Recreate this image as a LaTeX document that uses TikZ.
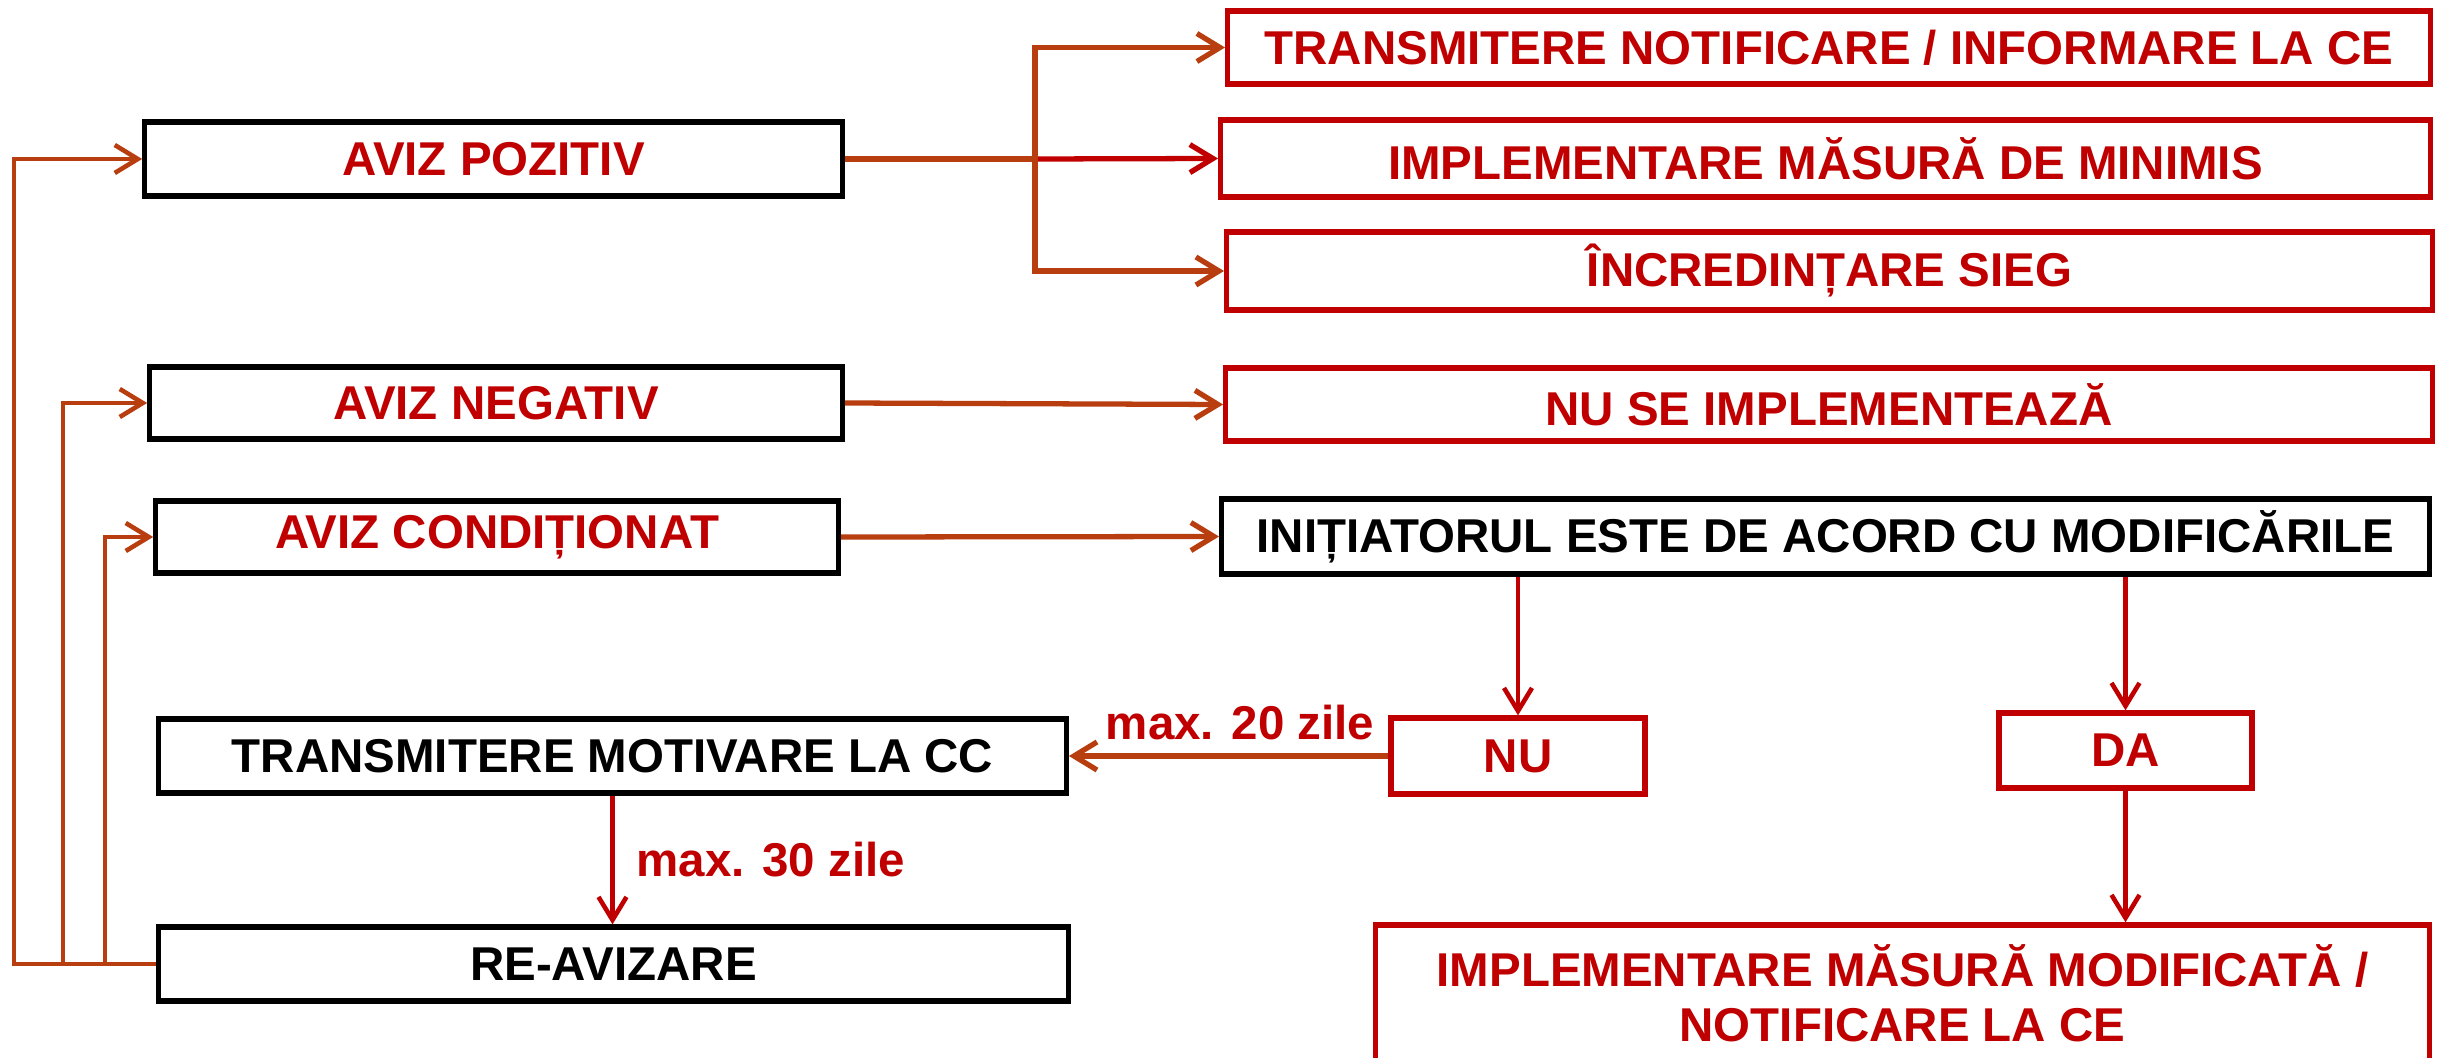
\documentclass[tikz,border=0pt]{standalone}
\usepackage{fontspec}
\setmainfont{Liberation Sans}
\usetikzlibrary{arrows.meta,calc}
\definecolor{rc}{RGB}{192,0,0}
\definecolor{brn}{RGB}{184,62,16}
\newcommand{\fsz}{\fontsize{13.5}{15.6}\selectfont\bfseries}
\tikzset{
  box/.style={draw, line width=1.5pt, inner sep=0pt, align=center, font=\fsz},
  bk/.style={box, draw=black},
  rd/.style={box, draw=rc, text=rc},
  conn/.style={line width=1.5pt, draw=brn, line join=miter},
  rconn/.style={line width=1.3pt, draw=rc},
  arr/.style={-{Straight Barb[length=0.23cm,width=0.28cm]}},
  lbl/.style={inner sep=0pt, font=\fsz, text=rc}
}
\begin{document}
\begin{tikzpicture}[x=0.01cm,y=-0.01cm]
\clip (0,0) rectangle (2445,1058);
\fill[white] (0,0) rectangle (2445,1058);
% left boxes
\node[bk, text=rc, minimum width=6.97cm, minimum height=0.74cm] (AP) at (493.5,159) {AVIZ POZITIV};
\node[bk, text=rc, minimum width=6.92cm, minimum height=0.72cm] (AN) at (496,403) {AVIZ NEGATIV};
\node[bk, text=rc, minimum width=6.82cm, minimum height=0.72cm] (AC) at (497,537) {AVIZ CONDIȚIONAT};
\node[bk, minimum width=9.07cm, minimum height=0.74cm] (TM) at (612.5,756) {TRANSMITERE MOTIVARE LA CC};
\node[bk, minimum width=9.09cm, minimum height=0.74cm] (RA) at (613.5,964) {RE-AVIZARE};
% right boxes
\node[rd, minimum width=12.02cm, minimum height=0.73cm] (TN) at (1829,47.5) {TRANSMITERE NOTIFICARE / INFORMARE LA CE};
\node[rd, minimum width=12.09cm, minimum height=0.77cm] (IM) at (1825.5,158.5) {IMPLEMENTARE MĂSURĂ DE MINIMIS};
\node[rd, minimum width=12.05cm, minimum height=0.78cm] (IS) at (1829.5,271) {ÎNCREDINȚARE SIEG};
\node[rd, minimum width=12.06cm, minimum height=0.73cm] (NS) at (1829,404.5) {NU SE IMPLEMENTEAZĂ};
\node[bk, minimum width=12.07cm, minimum height=0.75cm] (IN) at (1825.5,536.5) {INIȚIATORUL ESTE DE ACORD CU MODIFICĂRILE};
\node[rd, minimum width=2.54cm, minimum height=0.76cm] (NU) at (1518,756) {NU};
\node[rd, minimum width=2.53cm, minimum height=0.75cm] (DA) at (2125.5,750.5) {DA};
\node[rd, minimum width=10.53cm, minimum height=1.37cm] (FIN) at (1902.5,993.5) {IMPLEMENTARE MĂSURĂ MODIFICATĂ /\\NOTIFICARE LA CE};
% branch from AVIZ POZITIV
\coordinate (br) at (1035,159);
\draw[conn] (AP.east) -- (br);
\draw[rconn,line width=1.5pt,arr] (br) -- (IM.west);
\draw[conn,arr] (br) |- (TN.west);
\draw[conn,arr] (br) |- (IS.west);
% other horizontal connectors
\draw[conn,arr] (AN.east) -- (NS.west);
\draw[conn,arr] (AC.east) -- (IN.west);
\draw[conn,arr] (NU.west) -- (TM.east);
% red vertical arrows
\draw[rconn,arr] (NU.north |- IN.south) -- (NU.north);
\draw[rconn,arr] (DA.north |- IN.south) -- (DA.north);
\draw[rconn,arr] (DA.south) -- (DA.south |- FIN.north);
\draw[rconn,arr] (TM.south) -- (TM.south |- RA.north);
% labels
\node[lbl, anchor=base] (L20) at (1240,739) {max. 20 zile};
\node[lbl, anchor=base west] (L30) at (636,876) {max. 30 zile};
% feedback loops
\coordinate (c1) at (14,159);
\coordinate (c2) at (63,403);
\coordinate (c3) at (105,537);
\draw[conn,line width=1.3pt,arr] (RA.west) -| (c1) -- (AP.west);
\draw[conn,line width=1.3pt,arr] (RA.west) -| (c2) -- (AN.west);
\draw[conn,line width=1.3pt,arr] (RA.west) -| (c3) -- (AC.west);
\end{tikzpicture}
\end{document}
